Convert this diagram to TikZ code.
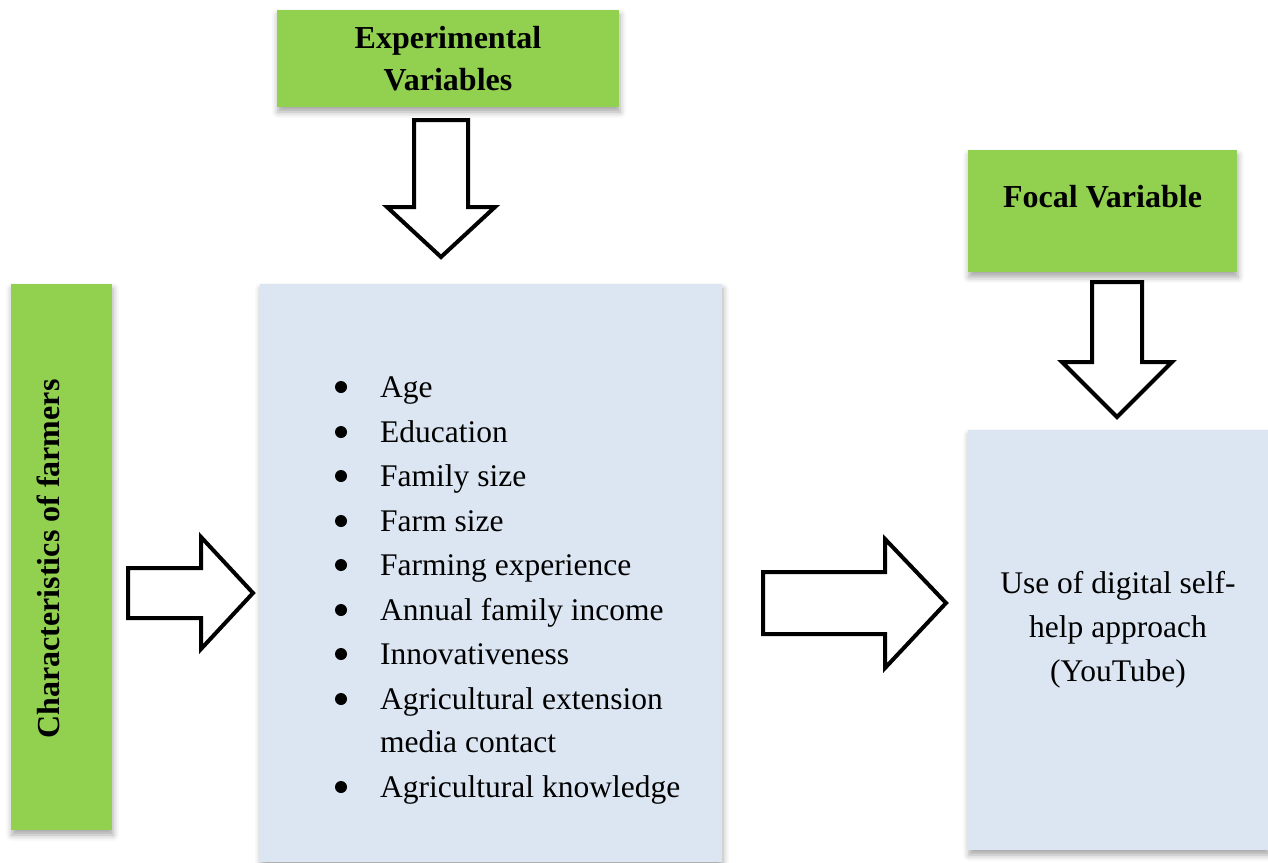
\documentclass[tikz,border=0pt]{standalone}
\usepackage{fontspec}
\setmainfont{Liberation Serif}
\usetikzlibrary{shadows.blur}

\definecolor{leafgreen}{HTML}{92D050}
\definecolor{paleblue}{HTML}{DCE6F2}

\begin{document}
\begin{tikzpicture}[x=1pt,y=-1pt]
\tikzstyle{softshadow}=[blur shadow={shadow xshift=1pt, shadow yshift=-5pt,
  shadow blur radius=6pt, shadow opacity=35}]
\tikzstyle{greenbox}=[fill=leafgreen, softshadow, inner sep=0pt,
  font=\fontsize{32}{42}\selectfont\bfseries, align=center]
\tikzstyle{bluebox}=[fill=paleblue, softshadow, inner sep=0pt,
  font=\fontsize{31.5}{44}\selectfont, align=center]
\tikzstyle{item}=[anchor=base west, inner sep=0pt, font=\fontsize{31.5}{44}\selectfont]
\tikzstyle{hollow}=[draw=black, fill=white, line width=4pt, line join=miter]

\useasboundingbox (0,0) rectangle (1268,862);

% boxes
\node[greenbox, minimum width=342pt, minimum height=97pt] (expvar) at (448,58.5)
  {Experimental\\Variables};
\node[greenbox, minimum width=269pt, minimum height=122pt, anchor=north,
  text height=57pt, text depth=65pt] (focal) at (1102.5,150) {Focal Variable};
\node[greenbox, minimum width=101pt, minimum height=546pt] (charbox) at (61.5,557) {};
\node[rotate=90, anchor=base, inner sep=0pt,
  font=\fontsize{32}{42}\selectfont\bfseries] (chartext) at (59,559)
  {Characteristics of farmers};
\node[bluebox, minimum width=462pt, minimum height=578pt] (traits) at (491,573) {};
\node[bluebox, minimum width=300pt, minimum height=420pt] (usebox) at (1118,640) {};
\node[inner sep=0pt, align=center, font=\fontsize{31.5}{44}\selectfont] (usetext)
  at (1118,630) {Use of digital self-\\help approach\\(YouTube)};

% list of characteristics
\foreach \yb/\txt [count=\i] in {397/Age, 442/Education, 486/Family size,
  531/Farm size, 575/Farming experience, 620/Annual family income,
  664/Innovativeness, 709/Agricultural extension, 797/Agricultural knowledge}
{
  \fill (341,\yb-10) circle (6pt);
  \node[item] (item\i) at (380,\yb) {\txt};
}
\node[item] (item8b) at (380,752) {media contact};

% block arrows
\draw[hollow] (414,120) -- (468,120) -- (468,207) -- (495,207) -- (441,257)
  -- (387,207) -- (414,207) -- cycle;
\draw[hollow] (1092,282) -- (1142,282) -- (1142,362) -- (1172,362) -- (1117,417)
  -- (1062,362) -- (1092,362) -- cycle;
\draw[hollow] (128,568) -- (201,568) -- (201,537) -- (253,593) -- (201,649)
  -- (201,618) -- (128,618) -- cycle;
\draw[hollow] (763,572) -- (885,572) -- (885,539) -- (946,603) -- (885,668)
  -- (885,634) -- (763,634) -- cycle;
\end{tikzpicture}
\end{document}
